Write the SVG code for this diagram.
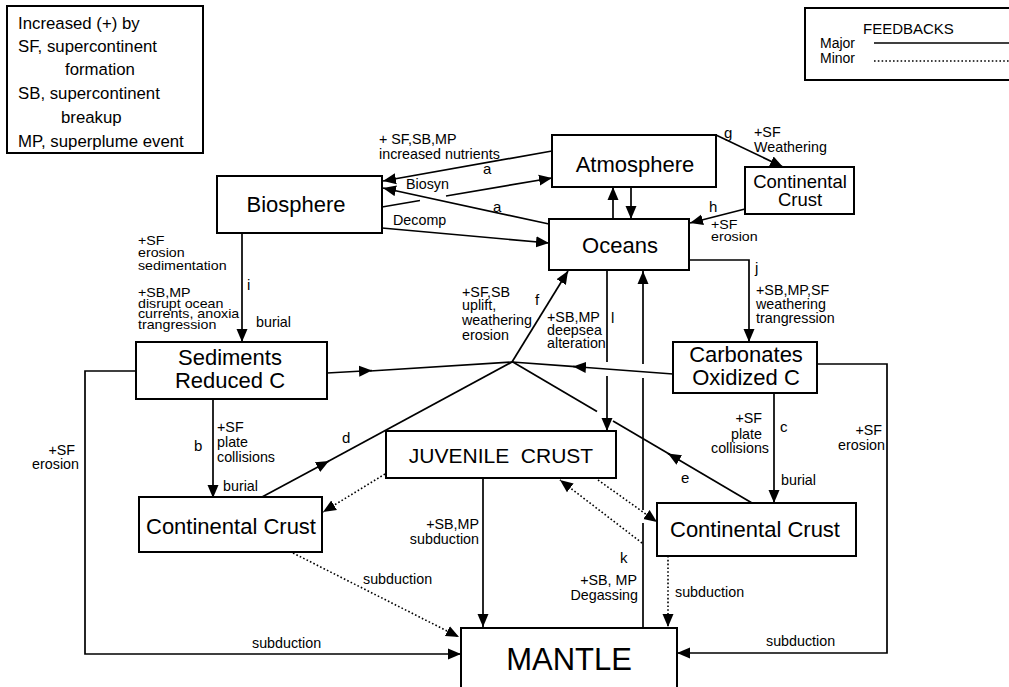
<svg xmlns="http://www.w3.org/2000/svg" width="1009" height="687" viewBox="0 0 1009 687">
<defs>
<style>
text{font-family:"Liberation Sans",Arial,sans-serif;fill:#000}
.box{fill:#fff;stroke:#000;stroke-width:2}
.t{font-size:22px;text-anchor:middle}
.s{font-size:14.3px}
.n{font-size:12.6px}
.l{font-size:15px}
.g{font-size:16.8px}
.c{fill:none;stroke:#000;stroke-width:1.7}
.d{fill:none;stroke:#000;stroke-width:1.6;stroke-dasharray:1.6 2.2}
</style>
<marker id="ah" markerUnits="userSpaceOnUse" markerWidth="14" markerHeight="12" refX="13" refY="5.5" orient="auto" viewBox="0 0 14 11">
<path d="M0,0 L13,5.5 L0,11 z" fill="#000"/>
</marker>
</defs>
<rect width="1009" height="687" fill="#fff"/>

<g id="legend">
<rect x="7" y="6" width="196" height="147" class="box"/>
<text class="g" x="18" y="29">Increased (+) by</text>
<text class="g" x="18" y="52">SF, supercontinent</text>
<text class="g" x="65" y="75">formation</text>
<text class="g" x="18" y="99">SB, supercontinent</text>
<text class="g" x="61" y="123">breakup</text>
<text class="g" x="18" y="147">MP, superplume event</text>
</g>

<g id="feedbacks">
<rect x="805" y="8" width="210" height="72" class="box"/>
<text x="863" y="34" style="font-size:15px">FEEDBACKS</text>
<text x="820" y="48" style="font-size:14px">Major</text>
<text x="820" y="63" style="font-size:14px">Minor</text>
<line x1="874" y1="43" x2="1009" y2="43" class="c"/>
<line x1="874" y1="61" x2="1009" y2="61" class="d" style="stroke-width:1.3"/>
</g>

<g id="connectors">
<path class="c" d="M552,151 L383,181" marker-end="url(#ah)"/>
<path class="c" d="M382,207 L420,200.5"/>
<path class="c" d="M446,196 L552,178" marker-end="url(#ah)"/>
<path class="c" d="M549,224 L383,188" marker-end="url(#ah)"/>
<path class="c" d="M382,228 L549,243" marker-end="url(#ah)"/>
<path class="c" d="M613,219 L613,187" marker-end="url(#ah)"/>
<path class="c" d="M631,187 L631,219" marker-end="url(#ah)"/>
<path class="c" d="M716,135 L783,167" marker-end="url(#ah)"/>
<path class="c" d="M745,209 L690,223" marker-end="url(#ah)"/>
<path class="c" d="M689,260 L749,260 L749,342" marker-end="url(#ah)"/>
<path class="c" d="M242,233 L242,342" marker-end="url(#ah)"/>
<path class="c" d="M213,399 L213,498" marker-end="url(#ah)"/>
<path class="c" d="M774,393 L774,503" marker-end="url(#ah)"/>
<path class="c" d="M327,373 L372,370.5" marker-end="url(#ah)"/>
<path class="c" d="M370,371 L512,362"/>
<path class="c" d="M673,374 L573,366.5" marker-end="url(#ah)"/>
<path class="c" d="M575,366.7 L512,362"/>
<path class="c" d="M512,362 L568,271" marker-end="url(#ah)"/>
<path class="c" d="M262,497 L329,461" marker-end="url(#ah)"/>
<path class="c" d="M327,462 L512,362"/>
<path class="c" d="M752,503 L668,453.5" marker-end="url(#ah)"/>
<path class="c" d="M670,454.6 L613,421"/>
<path class="c" d="M597,411.5 L512,361.5"/>
<path class="c" d="M607,270 L607,362"/>
<path class="c" d="M607,376 L607,431" marker-end="url(#ah)"/>
<path class="c" d="M643,627 L643,523"/>
<path class="c" d="M643,510 L643,378"/>
<path class="c" d="M643,364 L643,271" marker-end="url(#ah)"/>
<path class="c" d="M483,478 L483,627" marker-end="url(#ah)"/>
<path class="c" d="M136,371 L85,371 L85,654 L461,654" marker-end="url(#ah)"/>
<path class="c" d="M817,364 L887,364 L887,653 L677,653" marker-end="url(#ah)"/>
<path class="d" d="M385,474 L323,512" marker-end="url(#ah)"/>
<path class="d" d="M293,553 L459,637" marker-end="url(#ah)"/>
<path class="d" d="M598,480 L657,522" marker-end="url(#ah)"/>
<path class="d" d="M642,543 L560,480" marker-end="url(#ah)"/>
<path class="d" d="M668,556 L668,627" marker-end="url(#ah)"/>
</g>

<g id="connector-labels">
<text class="s" x="379" y="144">+ SF,SB,MP</text>
<text class="s" x="379" y="159">increased nutrients</text>
<text class="l" x="483" y="174">a</text>
<text class="s" x="406" y="189">Biosyn</text>
<text class="l" x="493" y="212">a</text>
<text class="s" x="393" y="225">Decomp</text>
<text class="l" x="724" y="138">g</text>
<text class="s" x="754" y="137">+SF</text>
<text class="s" x="754" y="152">Weathering</text>
<text class="l" x="709" y="212">h</text>
<g transform="translate(711,0) scale(1.13,1)">
<text class="n" x="0" y="229">+SF</text>
<text class="n" x="0" y="241">erosion</text>
</g>
<text class="l" x="755" y="273">j</text>
<text class="s" x="756" y="295">+SB,MP,SF</text>
<text class="s" x="756" y="309">weathering</text>
<text class="s" x="756" y="323">trangression</text>
<g transform="translate(138,0) scale(1.13,1)">
<text class="n" x="0" y="245">+SF</text>
<text class="n" x="0" y="257.5">erosion</text>
<text class="n" x="0" y="270">sedimentation</text>
<text class="n" x="0" y="297">+SB,MP</text>
<text class="n" x="0" y="307.7">disrupt ocean</text>
<text class="n" x="0" y="318.3">currents, anoxia</text>
<text class="n" x="0" y="329">trangression</text>
</g>
<text class="l" x="247" y="290">i</text>
<text class="s" x="256" y="327">burial</text>
<text class="s" x="462" y="297">+SF,SB</text>
<text class="s" x="462" y="310">uplift,</text>
<text class="s" x="462" y="325">weathering</text>
<text class="s" x="462" y="340">erosion</text>
<text class="l" x="535" y="305">f</text>
<text class="s" x="547" y="322">+SB,MP</text>
<text class="s" x="547" y="335">deepsea</text>
<text class="s" x="547" y="348">alteration</text>
<text class="l" x="611" y="323">l</text>
<text class="l" x="194" y="451">b</text>
<text class="s" x="217" y="432">+SF</text>
<text class="s" x="217" y="447">plate</text>
<text class="s" x="217" y="462">collisions</text>
<text class="s" x="223" y="491">burial</text>
<text class="l" x="342" y="443">d</text>
<text class="s" x="75" y="455" text-anchor="end">+SF</text>
<text class="s" x="79" y="469" text-anchor="end">erosion</text>
<text class="s" x="252" y="648">subduction</text>
<text class="s" x="363" y="584">subduction</text>
<text class="s" x="479" y="529" text-anchor="end">+SB,MP</text>
<text class="s" x="479" y="544" text-anchor="end">subduction</text>
<text class="l" x="620" y="563">k</text>
<text class="s" x="637" y="585" text-anchor="end">+SB, MP</text>
<text class="s" x="638" y="600" text-anchor="end">Degassing</text>
<text class="s" x="675" y="597">subduction</text>
<text class="l" x="681" y="483">e</text>
<text class="s" x="762" y="423" text-anchor="end">+SF</text>
<text class="s" x="762" y="439" text-anchor="end">plate</text>
<text class="s" x="769" y="453" text-anchor="end">collisions</text>
<text class="l" x="780" y="432">c</text>
<text class="s" x="781" y="485">burial</text>
<text class="s" x="882" y="435" text-anchor="end">+SF</text>
<text class="s" x="885" y="450" text-anchor="end">erosion</text>
<text class="s" x="766" y="646">subduction</text>
</g>

<g id="atmosphere">
<rect x="552" y="135" width="164" height="52" class="box"/>
<text class="t" x="635" y="172">Atmosphere</text>
</g>
<g id="oceans">
<rect x="549" y="219" width="140" height="51" class="box"/>
<text class="t" x="620" y="253">Oceans</text>
</g>
<g id="biosphere">
<rect x="217" y="176" width="165" height="57" class="box"/>
<text class="t" x="296" y="212">Biosphere</text>
</g>
<g id="continental-crust-top">
<rect x="745" y="167" width="109" height="47" class="box"/>
<text x="800" y="188" style="font-size:18.5px;text-anchor:middle">Continental</text>
<text x="800" y="206" style="font-size:18.5px;text-anchor:middle">Crust</text>
</g>
<g id="sediments">
<rect x="136" y="342" width="191" height="57" class="box"/>
<text class="t" x="230" y="365">Sediments</text>
<text class="t" x="230" y="388">Reduced C</text>
</g>
<g id="carbonates">
<rect x="673" y="342" width="144" height="51" class="box"/>
<text class="t" x="746" y="362">Carbonates</text>
<text class="t" x="746" y="385">Oxidized C</text>
</g>
<g id="juvenile-crust">
<rect x="386" y="431" width="230" height="47" class="box"/>
<text x="501" y="463" style="font-size:21px;text-anchor:middle;white-space:pre">JUVENILE  CRUST</text>
</g>
<g id="continental-crust-left">
<rect x="139" y="497" width="183" height="55" class="box"/>
<text class="t" x="231" y="534">Continental Crust</text>
</g>
<g id="continental-crust-right">
<rect x="657" y="503" width="199" height="53" class="box"/>
<text class="t" x="755" y="537">Continental Crust</text>
</g>
<g id="mantle">
<rect x="461" y="628" width="216" height="62" class="box"/>
<text x="569" y="670" style="font-size:31px;text-anchor:middle">MANTLE</text>
</g>
</svg>
